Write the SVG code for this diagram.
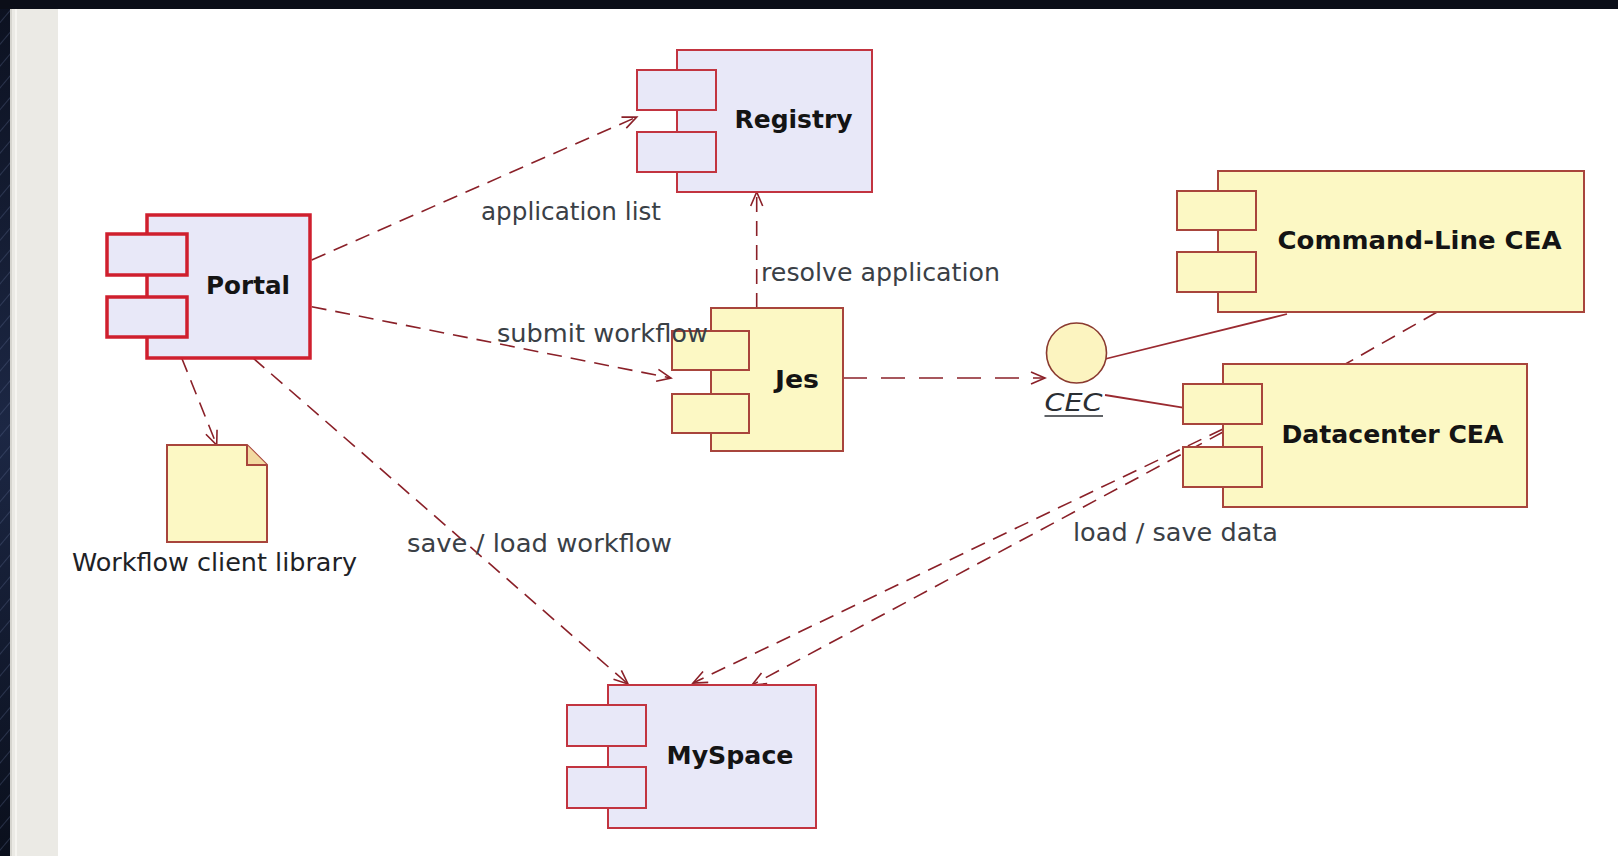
<svg xmlns="http://www.w3.org/2000/svg" width="1618" height="856" viewBox="0 0 1618 856">
  <defs>
    <linearGradient id="bgGrad" x1="0" y1="0" x2="0" y2="1">
      <stop offset="0" stop-color="#0c1120"/>
      <stop offset="0.5" stop-color="#1c2744"/>
      <stop offset="1" stop-color="#0a0f1c"/>
    </linearGradient>
    <pattern id="stripes" width="14" height="14" patternUnits="userSpaceOnUse" patternTransform="rotate(40)">
      <rect width="14" height="14" fill="none"/>
      <line x1="0" y1="0" x2="0" y2="14" stroke="#5a6a8e" stroke-width="2" opacity="0.35"/>
    </pattern>
    <marker id="open" viewBox="-16 -8 18 16" markerWidth="18" markerHeight="16" refX="0" refY="0" orient="auto" markerUnits="userSpaceOnUse">
      <path d="M-14,-6 L0,0 L-14,6" fill="none" stroke="#8a2028" stroke-width="1.6"/>
    </marker>
    <style>
      .main-lav { fill: #e8e8f8; stroke: #c23440; stroke-width: 2; }
      .port-lav { fill: #e8e8f8; stroke: #c23440; stroke-width: 2; }
      .main-yel { fill: #fcf8c4; stroke: #a8453c; stroke-width: 2; }
      .port-yel { fill: #fcf8c4; stroke: #a8453c; stroke-width: 2; }
      .portal-main { fill: #e8e8f8; stroke: #cf1f2e; stroke-width: 3.5; }
      .portal-port { fill: #e8e8f8; stroke: #cf1f2e; stroke-width: 3.5; }
      .name { font-family: "DejaVu Sans", "Noto Sans", sans-serif; font-weight: bold; font-size: 24px; fill: #141414; text-anchor: middle; }
      .label { font-family: "DejaVu Sans", "Noto Sans", sans-serif; font-size: 24px; fill: #3a4046; }
      .dash { fill: none; stroke: #8a2028; stroke-width: 1.6; stroke-dasharray: 15 9; }
      .solid { fill: none; stroke: #9a2a30; stroke-width: 1.8; }
    </style>
  </defs>

  <!-- backdrop -->
  <rect x="0" y="0" width="1618" height="856" fill="url(#bgGrad)"/>
  <rect x="0" y="0" width="1618" height="856" fill="url(#stripes)"/>
  <rect x="0" y="0" width="1618" height="9" fill="#0b0e18"/>

  <!-- canvas -->
  <rect x="10" y="9" width="1608" height="847" fill="#ffffff"/>
  <rect x="10" y="9" width="48" height="847" fill="#ebeae5"/>
  <rect x="10" y="9" width="2" height="847" fill="#d6d5cf"/>
  <rect x="15" y="9" width="2" height="847" fill="#f6f5f1"/>

  <!-- connectors -->
  <g id="connectors">
    <path class="dash" d="M311.7,260 L636.7,117" marker-end="url(#open)"/>
    <path class="dash" d="M311.7,306.7 L671,378" marker-end="url(#open)"/>
    <path class="dash" d="M181.7,358 L216.7,445" marker-end="url(#open)"/>
    <path class="dash" d="M253,358 L628,684" marker-end="url(#open)"/>
    <path class="dash" d="M756.7,308 L756.7,192" marker-end="url(#open)"/>
    <path class="dash" d="M843,378 L1045,378" style="stroke-dasharray: 24 14" marker-end="url(#open)"/>
    <path class="solid" d="M1105,359 L1287,314"/>
    <path class="solid" d="M1105,395 L1183,407.6"/>
    <path class="dash" d="M1436.7,312.3 L1345,364.3"/>
    <path class="dash" d="M1223,429 L693,683" marker-end="url(#open)"/>
    <path class="dash" d="M1223,432 L752,685" marker-end="url(#open)"/>
  </g>

  <!-- Portal -->
  <g id="portal">
    <rect class="portal-main" x="147" y="215" width="163" height="143"/>
    <rect class="portal-port" x="107" y="234" width="80" height="41"/>
    <rect class="portal-port" x="107" y="297" width="80" height="40"/>
    <text class="name" x="248" y="294" textLength="84" lengthAdjust="spacingAndGlyphs">Portal</text>
  </g>

  <!-- Workflow client library (artifact) -->
  <g id="workflow-client-library">
    <path d="M167,445 L247,445 L267,465 L267,542 L167,542 Z" fill="#fcf8c4" stroke="#a8453c" stroke-width="2"/>
    <path d="M247,445 L247,465 L267,465" fill="#f2d9a0" stroke="#a8453c" stroke-width="2"/>
    <text class="label" x="72" y="571" textLength="285" lengthAdjust="spacingAndGlyphs" style="fill:#1e2226">Workflow client library</text>
  </g>

  <!-- Registry -->
  <g id="registry">
    <rect class="main-lav" x="677" y="50" width="195" height="142"/>
    <rect class="port-lav" x="637" y="70" width="79" height="40"/>
    <rect class="port-lav" x="637" y="132" width="79" height="40"/>
    <text class="name" x="793.5" y="128" textLength="118" lengthAdjust="spacingAndGlyphs">Registry</text>
  </g>

  <!-- Jes -->
  <g id="jes">
    <rect class="main-yel" x="711" y="308" width="132" height="143"/>
    <rect class="port-yel" x="672" y="331" width="77" height="39"/>
    <rect class="port-yel" x="672" y="394" width="77" height="39"/>
    <text class="name" x="797" y="388" textLength="44" lengthAdjust="spacingAndGlyphs">Jes</text>
  </g>

  <!-- CEC interface -->
  <g id="cec">
    <circle cx="1076.5" cy="353" r="30" fill="#fcf4c0" stroke="#8a3a30" stroke-width="1.6"/>
    <text x="1044.5" y="411" textLength="58" lengthAdjust="spacingAndGlyphs" font-family="DejaVu Sans, sans-serif" font-style="italic" font-size="24" fill="#2a2e33">CEC</text>
    <line x1="1044.5" y1="416" x2="1103" y2="416" stroke="#2a2e33" stroke-width="1.6"/>
  </g>

  <!-- Command-Line CEA -->
  <g id="command-line-cea">
    <rect class="main-yel" x="1218" y="171" width="366" height="141"/>
    <rect class="port-yel" x="1177" y="191" width="79" height="39"/>
    <rect class="port-yel" x="1177" y="252" width="79" height="40"/>
    <text class="name" x="1419.5" y="249" textLength="284" lengthAdjust="spacingAndGlyphs">Command-Line CEA</text>
  </g>

  <!-- Datacenter CEA -->
  <g id="datacenter-cea">
    <rect class="main-yel" x="1223" y="364" width="304" height="143"/>
    <rect class="port-yel" x="1183" y="384" width="79" height="40"/>
    <rect class="port-yel" x="1183" y="447" width="79" height="40"/>
    <text class="name" x="1392.5" y="443" textLength="222" lengthAdjust="spacingAndGlyphs">Datacenter CEA</text>
  </g>

  <!-- MySpace -->
  <g id="myspace">
    <rect class="main-lav" x="608" y="685" width="208" height="143"/>
    <rect class="port-lav" x="567" y="705" width="79" height="41"/>
    <rect class="port-lav" x="567" y="767" width="79" height="41"/>
    <text class="name" x="730" y="764" textLength="127" lengthAdjust="spacingAndGlyphs">MySpace</text>
  </g>

  <!-- connector labels, drawn over the nodes -->
  <g id="labels">
    <text class="label" x="481" y="220" textLength="180" lengthAdjust="spacingAndGlyphs">application list</text>
    <text class="label" x="497" y="342" textLength="211" lengthAdjust="spacingAndGlyphs">submit workflow</text>
    <text class="label" x="761" y="281" textLength="239" lengthAdjust="spacingAndGlyphs">resolve application</text>
    <text class="label" x="407" y="552" textLength="265" lengthAdjust="spacingAndGlyphs">save / load workflow</text>
    <text class="label" x="1073" y="541" textLength="205" lengthAdjust="spacingAndGlyphs">load / save data</text>
  </g>
</svg>
